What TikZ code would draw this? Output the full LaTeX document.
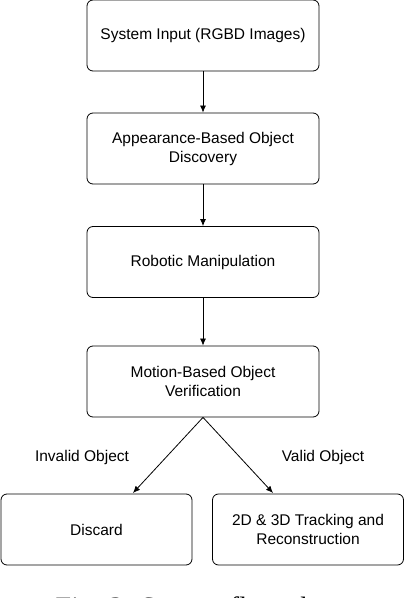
\documentclass[tikz,border=0pt]{standalone}
\usepackage{fontspec}
\setmainfont{Liberation Sans}
\newfontfamily\capfont{Liberation Serif}
\usepackage{tikz}
\usetikzlibrary{arrows.meta}

\begin{document}
\begin{tikzpicture}[x=1pt, y=1pt,
  stage/.style={draw, rounded corners=6pt, line width=0.8pt, minimum width=232pt,
    minimum height=71pt, align=center, font=\fontsize{15.5}{19}\selectfont},
  outcome/.style={stage, minimum width=191pt},
  flow/.style={-{Latex[length=7pt, width=6pt]}, line width=0.8pt},
  tag/.style={font=\fontsize{15.5}{19}\selectfont}]

\useasboundingbox (0,0) rectangle (406,598);
\clip (0,0) rectangle (406,598);

\node[stage] (I)  at (203, 562.5) {System Input (RGBD Images)};
\node[stage] (A)  at (203, 449.5) {Appearance-Based Object\\Discovery};
\node[stage] (R)  at (203, 336) {Robotic Manipulation};
\node[stage] (V)  at (203, 216.5) {Motion-Based Object\\Verification};

\node[outcome] (D)  at (96.5, 68.5) {Discard};
\node[outcome] (T)  at (308, 68.5) {2D \& 3D Tracking and\\Reconstruction};

\coordinate (Dtop) at (133, 105);
\coordinate (Ttop) at (273, 105);

\node[tag] (inv) at (82, 141) {Invalid Object};
\node[tag] (val) at (323, 141) {Valid Object};

\draw[flow] (I) to (A);
\draw[flow] (A) to (R);
\draw[flow] (R) to (V);
\draw[flow] (V.south) to (Dtop);
\draw[flow] (V.south) to (Ttop);

% caption, only its top shows in the frame
\node[font=\capfont\fontsize{28}{32}\selectfont, anchor=base] (cap) at (200, -18.5) {Fig. 3: System flow chart};
\end{tikzpicture}
\end{document}
